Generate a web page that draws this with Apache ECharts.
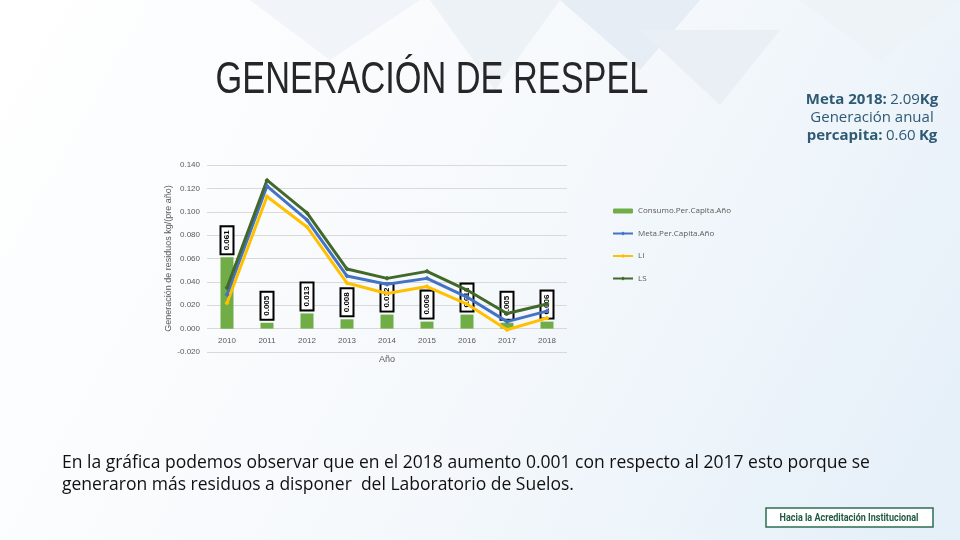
<!DOCTYPE html>
<html><head><meta charset="utf-8">
<script src="https://cdn.jsdelivr.net/npm/echarts@6/dist/echarts.min.js"></script>
<style>html,body{margin:0;padding:0;}#c{width:960px;height:540px;}</style>
</head><body><div id="c"></div>
<script>
var years = ['2010','2011','2012','2013','2014','2015','2016','2017','2018'];
var consumo = [0.061,0.005,0.013,0.008,0.012,0.006,0.012,0.005,0.006];
var meta = [0.029,0.122,0.093,0.045,0.038,0.043,0.027,0.006,0.015];
var li = [0.022,0.113,0.087,0.039,0.030,0.036,0.021,-0.001,0.009];
var ls = [0.035,0.127,0.099,0.051,0.043,0.049,0.033,0.013,0.021];

var chart = echarts.init(document.getElementById('c'));
function mk(name,data,c){return {name:name,type:'line',data:data,symbol:'diamond',symbolSize:5,lineStyle:{width:3,color:c},itemStyle:{color:c}};}
var metaRich = {b:{fontFamily:'Open Sans',fontSize:15,fontWeight:'bold',fill:'#2f5a74'},n:{fontFamily:'Open Sans',fontSize:15,fontWeight:'normal',fill:'#2f5a74'}};
chart.setOption({
  backgroundColor:{type:'linear',x:0,y:0,x2:1,y2:1,colorStops:[{offset:0,color:'#ffffff'},{offset:0.5,color:'#f6f9fc'},{offset:1,color:'#e4eff8'}]},
  graphic:[
    {type:'polygon',shape:{points:[[430,0],[560,0],[495,90]]},style:{fill:'#edf2f7'},z:-10},
    {type:'polygon',shape:{points:[[560,0],[700,0],[640,70]]},style:{fill:'#e6edf4'},z:-10},
    {type:'polygon',shape:{points:[[640,30],[780,30],[720,105]]},style:{fill:'#e9eff5'},z:-10},
    {type:'polygon',shape:{points:[[250,0],[420,0],[330,60]]},style:{fill:'#f1f5f9'},z:-10},
    {type:'polygon',shape:{points:[[800,0],[960,0],[880,60]]},style:{fill:'#eef3f8'},z:-10},
    {type:'text',x:432,y:59,scaleX:0.78,style:{text:'GENERACIÓN DE RESPEL',font:'normal 44px "Liberation Sans", sans-serif',fill:'#262626',align:'center',verticalAlign:'top'}},
    {type:'text',x:872,y:100,style:{rich:{b:metaRich.b,n:metaRich.n},text:'{b|Meta 2018:} {n|2.09}{b|Kg}',align:'center',verticalAlign:'middle'}},
    {type:'text',x:872,y:118,style:{text:'Generación anual',font:'normal 15px "Open Sans", sans-serif',fill:'#2f5a74',align:'center',verticalAlign:'middle'}},
    {type:'text',x:872,y:136,style:{rich:{b:metaRich.b,n:metaRich.n},text:'{b|percapita:} {n|0.60} {b|Kg}',align:'center',verticalAlign:'middle'}},
    {type:'text',x:62,y:452,style:{text:'En la gráfica podemos observar que en el 2018 aumento 0.001 con respecto al 2017 esto porque se\ngeneraron más residuos a disponer  del Laboratorio de Suelos.',font:'normal 17.5px "Open Sans", sans-serif',fill:'#111',lineHeight:22}},
    {type:'rect',shape:{x:766,y:508,width:167,height:19},style:{fill:'#ffffff',stroke:'#2c6e52',lineWidth:1.5}},
    {type:'text',x:849,y:518,scaleX:0.82,style:{text:'Hacia la Acreditación Institucional',font:'bold 11px "Roboto", sans-serif',fill:'#1f5a40',align:'center',verticalAlign:'middle'}}
  ],
  grid:{left:207,right:393,top:165,bottom:188,containLabel:false},
  legend:{orient:'vertical',left:607,top:202,itemGap:14.5,itemWidth:20,itemHeight:5,
    textStyle:{fontSize:8,color:'#595959',fontFamily:'Open Sans'},
    data:['Consumo.Per.Capita.Año','Meta.Per.Capita.Año','LI','LS']},
  xAxis:{type:'category',data:years,name:'Año',nameLocation:'middle',nameGap:26,offset:-23.4,
    nameTextStyle:{fontSize:9,color:'#595959'},
    axisLine:{show:false,onZero:false},axisTick:{show:false},axisLabel:{fontSize:8,color:'#595959',margin:8}},
  yAxis:{type:'value',min:-0.02,max:0.14,interval:0.02,
    name:'Generación de residuos kg/(pre año)',nameLocation:'middle',nameGap:23,
    nameTextStyle:{fontSize:9,color:'#595959'},
    axisLabel:{fontSize:8,color:'#595959',margin:7,formatter:function(v){return v.toFixed(3);}},
    splitLine:{lineStyle:{color:'#d9d9d9'}}},
  series:[
    {name:'Consumo.Per.Capita.Año',type:'bar',data:consumo,barWidth:13,itemStyle:{color:'#70ad47'},
     label:{show:true,position:'top',rotate:90,align:'left',verticalAlign:'middle',distance:4,
      formatter:function(p){return p.value.toFixed(3);},fontSize:8,fontWeight:'bold',color:'#000',
      backgroundColor:'#fff',borderColor:'#000',borderWidth:2,padding:[2,3,1,3]}},
    mk('Meta.Per.Capita.Año',meta,'#4472c4'),
    mk('LI',li,'#ffc000'),
    mk('LS',ls,'#43682b')
  ]
});
</script></body></html>
